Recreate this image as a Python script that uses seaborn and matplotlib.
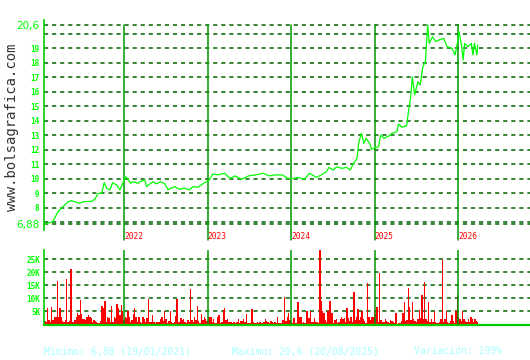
import numpy as np
import pandas as pd
import matplotlib
matplotlib.use("Agg")
import matplotlib.pyplot as plt
import matplotlib.dates as mdates
import seaborn as sns

# ---------------- data ----------------
price_dates = [
    "2021-01-19", "2021-02-22", "2021-03-17", "2021-04-01", "2021-04-30", "2021-05-15",
    "2021-06-20", "2021-07-05", "2021-08-11", "2021-08-25", "2021-09-09", "2021-09-24",
    "2021-10-05", "2021-10-16", "2021-10-30", "2021-11-11", "2021-11-29", "2021-12-13",
    "2021-12-25", "2022-01-04", "2022-01-11", "2022-01-29", "2022-02-09", "2022-03-03",
    "2022-03-10", "2022-04-01", "2022-04-08", "2022-04-23", "2022-05-07", "2022-05-22",
    "2022-06-08", "2022-06-27", "2022-07-11", "2022-08-09", "2022-08-31", "2022-09-22",
    "2022-10-13", "2022-10-28", "2022-11-19", "2022-12-03", "2022-12-18", "2023-01-05",
    "2023-01-23", "2023-02-15", "2023-03-16", "2023-04-08", "2023-04-30", "2023-05-30",
    "2023-06-28", "2023-07-28", "2023-09-03", "2023-09-25", "2023-10-25", "2023-11-24",
    "2023-12-16", "2024-01-14", "2024-01-29", "2024-02-28", "2024-03-21", "2024-04-20",
    "2024-05-12", "2024-06-03", "2024-06-14", "2024-07-03", "2024-07-18", "2024-08-09",
    "2024-08-31", "2024-09-15", "2024-09-30", "2024-10-15", "2024-10-22", "2024-11-03",
    "2024-11-14", "2024-11-24", "2024-12-09", "2024-12-18", "2025-01-03", "2025-01-17",
    "2025-01-26", "2025-02-10", "2025-03-03", "2025-03-17", "2025-04-07", "2025-04-15",
    "2025-04-29", "2025-05-20", "2025-05-27", "2025-06-06", "2025-06-14", "2025-06-24",
    "2025-07-08", "2025-07-18", "2025-07-30", "2025-08-10", "2025-08-20", "2025-08-27",
    "2025-09-10", "2025-09-24", "2025-10-08", "2025-10-29", "2025-11-13", "2025-12-04",
    "2025-12-18", "2025-12-29", "2026-01-04", "2026-01-15", "2026-01-22", "2026-01-29",
    "2026-02-12", "2026-02-27", "2026-03-06", "2026-03-13", "2026-03-23", "2026-03-27",
]
price_values = [
    6.88, 7.04, 7.73, 7.97, 8.42, 8.49,
    8.31, 8.42, 8.45, 8.59, 9.00, 9.00,
    9.73, 9.34, 9.23, 9.73, 9.57, 9.23,
    9.69, 10.14, 10.10, 9.69, 9.80, 9.69,
    9.80, 9.92, 9.46, 9.65, 9.80, 9.65,
    9.80, 9.66, 9.25, 9.46, 9.28, 9.35,
    9.23, 9.46, 9.42, 9.57, 9.73, 9.87,
    10.33, 10.27, 10.38, 10.03, 10.20, 9.97,
    10.20, 10.27, 10.38, 10.20, 10.27, 10.27,
    10.03, 10.03, 10.10, 9.97, 10.38, 10.10,
    10.27, 10.49, 10.79, 10.60, 10.83, 10.72,
    10.79, 10.60, 11.07, 11.41, 12.45, 13.14,
    12.45, 12.79, 12.45, 12.03, 12.17, 12.20,
    13.02, 12.79, 12.95, 13.14, 13.25, 13.78,
    13.55, 13.66, 14.52, 15.55, 17.04, 15.78,
    16.70, 16.47, 17.73, 18.08, 20.60, 19.34,
    19.80, 19.46, 19.57, 19.69, 19.11, 19.00,
    18.54, 19.46, 20.15, 19.23, 18.19, 19.34,
    19.11, 19.34, 18.54, 19.34, 18.54, 19.23,
]

volume_k_2021 = [
    1.4, 0.9, 6.5, 1.8, 0.9, 6.9, 1.8, 3.0, 3.0, 16.8,
    3.0, 6.3, 2.7, 1.4, 0.9, 1.8, 17.4, 0.9, 1.4, 21.3,
    1.1, 0.9, 1.8, 3.0, 4.4, 3.7, 9.5, 4.0, 2.0, 2.0,
    1.8, 2.7, 3.7, 3.0, 2.4, 0.9, 1.8, 1.4, 0.8, 0.4,
    0.5, 1.4, 7.2, 6.3, 9.1, 1.1, 3.0, 2.4, 0.9, 7.2,
    0.9, 2.7, 2.4, 7.8, 6.3, 3.7, 7.3, 5.0, 1.8, 3.0,
    2.4, 5.3, 3.0, 0.9, 1.8, 4.0, 6.5, 3.0, 0.9, 2.7, 0.9,
    0.5, 2.8, 2.0, 0.9, 2.4, 9.7, 1.1,
]
volume_k_2022 = [
    0.9, 3.7, 1.1, 0.5, 0.9, 0.9, 0.9, 2.0, 2.8, 1.4,
    5.0, 2.2, 0.5, 1.4, 5.0, 0.9, 0.5, 0.9, 3.3, 9.9,
    1.1, 0.9, 2.4, 1.8, 2.0, 1.1, 0.5, 1.8, 0.9, 13.7,
    1.8, 0.9, 3.0, 1.8, 7.2, 1.4, 0.5, 4.1, 1.8, 2.7,
    2.0, 1.4, 3.0, 3.0, 2.8, 0.9, 2.0, 0.5, 0.5, 3.0,
    3.7, 0.5, 0.9, 5.6, 6.3, 1.8, 2.2, 1.1, 0.9, 0.9,
    0.5, 1.1, 0.5, 0.9, 2.0, 0.5, 1.4, 1.4, 2.0, 1.1, 4.1,
    0.5, 0.5, 0.5, 5.9, 1.1, 0.5, 0.5, 0.9,
]
volume_k_2024 = [
    0.5, 0.9, 0.5, 0.5, 0.9, 2.0, 1.4, 0.9, 0.5, 1.4,
    1.1, 0.5, 0.9, 0.5, 2.7, 0.5, 0.5, 0.5, 1.8, 10.4,
    1.4, 2.7, 4.4, 1.8, 1.1, 0.5, 2.4, 0.5, 0.5, 8.6,
    2.8, 2.8, 0.5, 0.9, 0.5, 5.3, 5.3, 2.4, 5.3, 1.1,
    0.9, 2.4, 0.9, 0.9, 0.5, 28.6, 9.1, 5.3, 4.4, 1.8,
    0.9, 5.3, 9.1, 9.1, 4.4, 0.5, 1.8, 2.0, 0.5, 1.1,
    2.0, 3.0, 2.0, 2.4, 0.9, 6.3, 2.4, 1.4, 3.0, 0.9,
    12.6, 1.8, 2.7, 5.9, 1.8, 2.7, 5.3, 2.0, 1.4,
]
volume_k_2025 = [
    0.5, 15.9, 2.7, 1.8, 2.7, 3.0, 5.6, 4.0, 6.9, 0.9,
    19.7, 1.8, 0.9, 1.1, 2.0, 1.4, 0.9, 0.5, 1.8, 1.4,
    1.1, 0.5, 4.4, 0.2, 0.5, 0.5, 1.4, 4.4, 8.5, 1.4,
    1.8, 14.0, 6.9, 1.8, 8.5, 2.0, 1.4, 0.9, 2.0, 5.6,
    2.4, 11.2, 2.0, 16.3, 2.0, 1.4, 8.5, 0.9, 2.0, 0.9,
    5.3, 0.9, 0.5, 0.5, 0.9, 2.0, 24.9, 0.9, 2.0, 5.3,
    1.1, 0.5, 1.4, 3.7, 1.4, 0.5, 5.3, 11.4, 2.7, 2.0,
    1.4, 5.0, 2.0, 1.4, 0.9, 2.0, 0.9, 2.8, 2.0, 0.9,
    2.0, 1.4, 1.1,
]
volume_first_date = "2021-01-19"
volume_last_date = "2026-03-27"

year_labels = ["2022", "2023", "2024", "2025", "2026"]
price_ticks = [6.88, 7, 8, 9, 10, 11, 12, 13, 14, 15, 16, 17, 18, 19, 20, 20.6]
price_tick_labels = ["6,88", "", "8", "9", "10", "11", "12", "13", "14", "15",
                     "16", "17", "18", "19", "", "20,6"]
volume_ticks = [5, 10, 15, 20, 25]
volume_tick_labels = ["5K", "10K", "15K", "20K", "25K"]
footer_texts = ["Minimo: 6,88 (19/01/2021)", "Maximo: 20,6 (20/08/2025)", "Variación: 199%"]
watermark = "www.bolsagrafica.com"

# ---------------- style ----------------
sns.set_theme(style="white")
plt.rcParams["font.family"] = ["DejaVu Sans"]
plt.rcParams["lines.scale_dashes"] = False

GRID = "#006400"
YEARLINE = "#009900"
SPINE = "#00cc00"
TICKTXT = "#00ff00"
DASH = (0, (3.0, 2.8))

W, H = 530, 360
fig = plt.figure(figsize=(W / 100, H / 100), dpi=100)
fig.patch.set_facecolor("white")
left = 43.7 / W
ax = fig.add_axes([left, (H - 230) / H, 1 - left, 210 / H])
axv = fig.add_axes([left, (H - 324.5) / H, 1 - left, 74.5 / H])

ref = mdates.date2num(pd.Timestamp("2022-01-01"))
xlim = (ref - 352.6, ref + 1774.6)

# ---------------- price panel ----------------
pdates = pd.to_datetime(price_dates)
for v in price_ticks:
    ax.axhline(v, color=GRID, lw=1.1, ls=DASH, zorder=1)
sns.lineplot(x=pdates, y=price_values, ax=ax, color="#00ff00", linewidth=0.9, zorder=3)
ax.set_xlim(*xlim)
ax.set_ylim(6.47, 20.95)
ax.set_xlabel("")
ax.set_ylabel("")
ax.set_xticks([])
ax.set_yticks(price_ticks)
ax.set_yticklabels(price_tick_labels)
ax.tick_params(axis="y", length=0, pad=3, labelcolor=TICKTXT)
for lab in ax.get_yticklabels():
    if "," in lab.get_text():
        lab.set_fontsize(7.5)
        lab.set_family("DejaVu Sans")
    else:
        lab.set_fontsize(5.5)
        lab.set_family("DejaVu Sans Mono")
        lab.set_fontweight("bold")
for s in ["top", "right", "bottom"]:
    ax.spines[s].set_visible(False)
ax.spines["left"].set_color(SPINE)
ax.spines["left"].set_linewidth(1.2)
ax.set_facecolor("none")

ytop = (20.6 - 6.47) / (20.95 - 6.47)
for yl in year_labels:
    d = mdates.date2num(pd.Timestamp(f"{yl}-01-01"))
    ax.axvline(d, ymin=-0.048, ymax=ytop, color=YEARLINE, lw=1.1, clip_on=False, zorder=2)
    ax.text(d, -0.03, yl, transform=ax.get_xaxis_transform(), color="#ff0000",
            fontsize=5.7, family="DejaVu Sans Mono", ha="left", va="center")

# ---------------- volume panel ----------------
vol = volume_k_2021 + volume_k_2022 + volume_k_2024 + volume_k_2025
vdates = pd.date_range(volume_first_date, volume_last_date, periods=len(vol))
step = (vdates[1] - vdates[0]).total_seconds() / 86400
for v in volume_ticks:
    axv.axhline(v, color=GRID, lw=1.1, ls=DASH, zorder=1)
axv.bar(vdates, vol, width=step, color="#ff0000", linewidth=0, align="center", zorder=2)
axv.set_xlim(*xlim)
axv.set_ylim(0, 28.6)
axv.set_xticks([])
axv.set_yticks(volume_ticks)
axv.set_yticklabels(volume_tick_labels)
axv.tick_params(axis="y", length=0, pad=2.5, labelcolor=TICKTXT)
for lab in axv.get_yticklabels():
    lab.set_fontsize(5.5)
    lab.set_family("DejaVu Sans Mono")
    lab.set_fontweight("bold")
for s in ["top", "right"]:
    axv.spines[s].set_visible(False)
axv.spines["left"].set_color(SPINE)
axv.spines["left"].set_linewidth(1.2)
axv.spines["bottom"].set_color(SPINE)
axv.spines["bottom"].set_linewidth(1.6)
axv.set_facecolor("none")
for yl in year_labels:
    d = mdates.date2num(pd.Timestamp(f"{yl}-01-01"))
    axv.axvline(d, color=YEARLINE, lw=1.1, zorder=3)

# ---------------- texts ----------------
fig.text(12.5 / W, 1 - 127 / H, watermark, rotation=90, ha="center", va="center",
         family="DejaVu Sans Mono", fontsize=10, color="#333333")
for x, t in zip([44, 232, 414], footer_texts):
    fig.text(x / W, 1 - 351.5 / H, t, ha="left", va="center",
             family="DejaVu Sans Mono", fontsize=7, color="#a8ffff")

fig.savefig("out.png", dpi=100, facecolor="white")
